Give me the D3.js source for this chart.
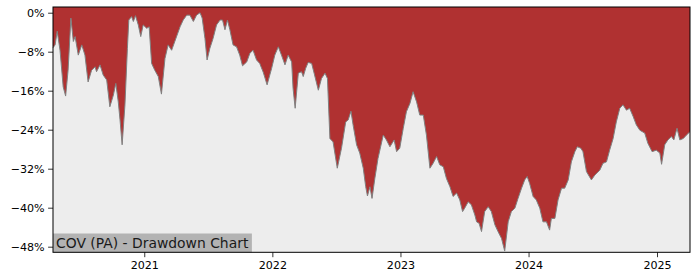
<!DOCTYPE html>
<html><head><meta charset="utf-8">
<script src="https://cdn.jsdelivr.net/npm/d3@7"></script>
<style>body{margin:0;background:#fff}svg{display:block}text{font-family:"DejaVu Sans",sans-serif}</style>
</head><body><svg id="c" width="700" height="280"></svg>
<script>
const dates = ["2020-04-16","2020-04-22","2020-04-28","2020-05-06","2020-05-15","2020-05-22","2020-05-29","2020-06-06","2020-06-13","2020-06-18","2020-06-27","2020-07-07","2020-07-16","2020-07-25","2020-08-04","2020-08-14","2020-08-18","2020-08-28","2020-09-06","2020-09-16","2020-09-25","2020-10-05","2020-10-12","2020-10-19","2020-10-24","2020-10-30","2020-11-07","2020-11-14","2020-11-18","2020-11-26","2020-12-01","2020-12-07","2020-12-15","2020-12-22","2020-12-29","2021-01-08","2021-01-15","2021-01-22","2021-01-31","2021-02-10","2021-02-19","2021-03-01","2021-03-10","2021-03-20","2021-03-29","2021-04-13","2021-04-22","2021-05-02","2021-05-11","2021-05-21","2021-05-30","2021-06-09","2021-06-15","2021-06-23","2021-06-29","2021-07-07","2021-07-16","2021-07-26","2021-08-05","2021-08-12","2021-08-19","2021-08-26","2021-09-02","2021-09-11","2021-09-21","2021-09-30","2021-10-08","2021-10-20","2021-10-29","2021-11-07","2021-11-17","2021-11-26","2021-12-06","2021-12-17","2021-12-30","2022-01-08","2022-01-18","2022-01-27","2022-02-06","2022-02-15","2022-02-25","2022-03-01","2022-03-07","2022-03-16","2022-03-25","2022-03-30","2022-04-06","2022-04-13","2022-04-23","2022-04-30","2022-05-12","2022-05-21","2022-05-31","2022-06-07","2022-06-14","2022-06-23","2022-07-05","2022-07-17","2022-07-29","2022-08-05","2022-08-13","2022-08-19","2022-08-29","2022-09-07","2022-09-17","2022-09-24","2022-09-29","2022-10-06","2022-10-12","2022-10-20","2022-10-29","2022-11-13","2022-11-22","2022-12-02","2022-12-14","2022-12-21","2022-12-30","2023-01-09","2023-01-18","2023-01-28","2023-02-06","2023-02-16","2023-02-25","2023-03-07","2023-03-16","2023-03-26","2023-04-04","2023-04-14","2023-04-23","2023-05-03","2023-05-12","2023-05-22","2023-05-31","2023-06-10","2023-06-19","2023-06-27","2023-07-03","2023-07-13","2023-07-22","2023-08-01","2023-08-06","2023-08-13","2023-08-20","2023-08-29","2023-09-08","2023-09-17","2023-09-27","2023-10-06","2023-10-16","2023-10-25","2023-11-04","2023-11-13","2023-11-23","2023-12-02","2023-12-12","2023-12-21","2023-12-28","2024-01-04","2024-01-14","2024-01-23","2024-02-02","2024-02-11","2024-02-21","2024-03-01","2024-03-06","2024-03-16","2024-03-25","2024-04-04","2024-04-13","2024-04-23","2024-05-02","2024-05-12","2024-05-19","2024-05-29","2024-06-04","2024-06-14","2024-06-28","2024-07-08","2024-07-22","2024-07-31","2024-08-10","2024-08-19","2024-08-29","2024-09-07","2024-09-17","2024-09-26","2024-10-06","2024-10-15","2024-10-25","2024-11-03","2024-11-13","2024-11-27","2024-12-06","2024-12-18","2024-12-30","2025-01-09","2025-01-14","2025-01-23","2025-02-01","2025-02-11","2025-02-18","2025-02-27","2025-03-07","2025-03-17","2025-03-26","2025-04-05"];
const drawdown = [-7.2,-6.6,-3.8,-7.7,-15.2,-17.1,-11.8,-1.1,-5.9,-4.9,-8.7,-6.6,-8.7,-14.2,-11.8,-11.1,-12.1,-10.7,-12.8,-13.8,-19.3,-16.9,-14.5,-18.3,-22.0,-27.1,-18.9,-7.3,-1.5,-0.8,-1.8,-0.6,-2.5,-4.9,-2.5,-3.2,-2.9,-10.4,-11.8,-13.1,-16.7,-9.4,-6.6,-7.7,-5.9,-2.9,-1.5,-0.5,-0.5,-1.8,-0.5,0,-1.1,-5.3,-9.7,-7.3,-5.3,-2.5,-1.5,-1.5,-3.5,-1.5,-3.5,-6.6,-7.0,-8.7,-10.9,-10.1,-8.3,-7.7,-9.7,-10.4,-12.2,-14.8,-11.4,-8.7,-7.0,-8.7,-10.7,-8.7,-10.1,-15.5,-19.6,-12.4,-12.1,-13.1,-11.4,-10.2,-10.4,-12.4,-15.9,-13.5,-12.4,-13.5,-25.8,-26.5,-31.9,-27.8,-22.4,-22.0,-20.2,-23.0,-27.1,-28.8,-31.9,-35.7,-37.6,-35.7,-38.1,-34.0,-29.9,-25.1,-26.1,-27.5,-26.1,-28.5,-27.8,-23.7,-20.3,-18.6,-16.2,-18.3,-21.0,-21.0,-25.1,-31.9,-30.9,-29.5,-31.2,-31.6,-34.0,-35.7,-37.7,-37.0,-38.4,-40.8,-40.1,-38.8,-39.4,-41.5,-42.9,-43.2,-44.9,-40.8,-39.8,-40.8,-43.5,-44.9,-46.3,-48.9,-42.9,-40.8,-40.1,-38.1,-36.0,-34.3,-33.6,-35.0,-37.7,-38.4,-40.1,-42.9,-42.9,-44.6,-42.2,-42.2,-38.4,-36.0,-36.0,-34.3,-30.6,-28.5,-27.5,-27.8,-28.5,-32.6,-34.3,-33.3,-32.3,-30.9,-30.6,-28.2,-25.8,-22.4,-19.6,-18.9,-20.0,-19.6,-21.3,-23.0,-24.1,-24.7,-26.8,-28.5,-28.2,-28.8,-31.1,-27.1,-26.1,-25.4,-26.1,-23.7,-26.1,-25.8,-25.1,-24.4];
const yTicks = [0,-8,-16,-24,-32,-40,-48];
const xTickYears = [2021,2022,2023,2024,2025];
const title = "COV (PA) - Drawdown Chart";

const parse = d3.timeParse("%Y-%m-%d");
const data = dates.map((d,i)=>({date:parse(d), v:drawdown[i]}));
const svg = d3.select("#c");
const m = {l:53, r:690, t:7, b:252.3};
const x = d3.scaleTime().domain(d3.extent(data,d=>d.date)).range([m.l, m.r]);
const y = d3.scaleLinear().domain([-49.15, 1.17]).range([m.b, m.t]);

svg.append("rect").attr("x",m.l).attr("y",m.t).attr("width",m.r-m.l).attr("height",m.b-m.t).attr("fill","#ededed");
const area = d3.area().x(d=>x(d.date)).y0(m.t).y1(d=>y(d.v));
svg.append("path").datum(data).attr("d",area).attr("fill","#b03131");
const line = d3.line().x(d=>x(d.date)).y(d=>y(d.v));
svg.append("path").datum(data).attr("d",line).attr("fill","none").attr("stroke","#808080").attr("stroke-width",1);

// label box
const lab = svg.append("g");
const bg = lab.append("rect").attr("fill","#b3b3b3");
const t = lab.append("text").attr("x",56).attr("y",247.5).attr("font-size","13.9px").attr("fill","#1a1a1a").text(title);
const bb = t.node().getBBox();
bg.attr("x",m.l).attr("y",233.5).attr("width",bb.x+bb.width+3-m.l).attr("height",m.b-233.5);

// axes
const yAxis = d3.axisLeft(y).tickValues(yTicks).tickFormat(d=>(d<0?"\u2212":"")+Math.abs(d)+"%").tickSize(4.9).tickPadding(3.5);
const gy = svg.append("g").attr("transform",`translate(${m.l},0)`).call(yAxis);
const xAxis = d3.axisBottom(x).tickValues(xTickYears.map(yr=>new Date(yr,0,1))).tickFormat(d3.timeFormat("%Y")).tickSize(4.9).tickPadding(3.5);
const gx = svg.append("g").attr("transform",`translate(0,${m.b})`).call(xAxis);
[gx,gy].forEach(g=>{g.select(".domain").remove();g.selectAll("text").attr("font-size","11.1px").attr("font-family","DejaVu Sans").attr("fill","#000");g.selectAll("line").attr("stroke","#000").attr("stroke-width",0.8);});
svg.append("rect").attr("x",m.l).attr("y",m.t).attr("width",m.r-m.l).attr("height",m.b-m.t).attr("fill","none").attr("stroke","#000").attr("stroke-width",1);
</script></body></html>
